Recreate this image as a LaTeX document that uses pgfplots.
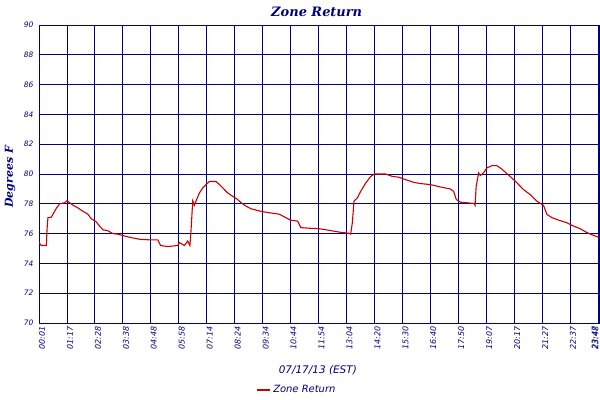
\documentclass[border=0pt]{standalone}
\usepackage{pgfplots}
\pgfplotsset{compat=1.18}
\usepackage{fontspec}
\setmainfont{DejaVu Sans}
\newfontfamily\dvserif{DejaVu Serif}
\definecolor{navy}{HTML}{000080}
\definecolor{linered}{HTML}{CC0000}
\begin{document}
\begin{tikzpicture}
\begin{axis}[
  scale only axis,
  width=561bp, height=298bp,
  xmin=0, xmax=20.07, ymin=70, ymax=90,
  xtick={0,...,20},
  xticklabels={00:01,01:17,02:28,03:38,04:48,05:58,07:14,08:24,09:34,10:44,11:54,13:04,14:20,15:30,16:40,17:50,19:07,20:17,21:27,22:37,{}},
  extra x ticks={19.77,19.80},
  extra x tick labels={23:47,23:48},
  extra x tick style={grid=none},
  ytick={70,72,...,90},
  major tick length=0pt,
  grid=major,
  major grid style={navy, line width=0.9bp},
  axis line style={navy, line width=0.9bp},
  /pgf/number format/assume math mode=true,
  x tick label style={rotate=90, anchor=east, font=\itshape\fontsize{8}{9}\selectfont, text=navy, yshift=-3bp},
  y tick label style={font=\itshape\fontsize{7.5}{8}\selectfont, text=navy, xshift=-2bp},
  title={Zone Return},
  title style={font=\dvserif\bfseries\itshape\fontsize{13}{14}\selectfont, text=navy, at={(axis description cs:0.495,1)}, anchor=base, yshift=3bp},
  xlabel={07/17/13 (EST)},
  xlabel style={font=\itshape\fontsize{10.5}{12}\selectfont, text=navy, at={(axis description cs:0.497,0)}, anchor=base, yshift=-50bp},
  ylabel={Degrees F},
  ylabel style={font=\dvserif\bfseries\itshape\fontsize{11}{12}\selectfont, text=navy, at={(axis description cs:-0.0517,0.49)}, anchor=center},
  legend style={draw=none, fill=none, at={(axis description cs:0.46,-0.225)}, anchor=center, font=\itshape\fontsize{10}{12}\selectfont, text=navy, inner sep=0pt},
  legend image code/.code={\draw[#1, line width=1.6bp] (0bp,0bp) -- (13bp,0bp);},
]
\addplot[linered, line width=1.1bp, mark=none] coordinates {
(0,75.4) (0.08,75.2) (0.26,75.2) (0.29,76.35) (0.32,77.07) (0.44,77.1) (0.5,77.3)
(0.62,77.7) (0.68,77.85) (0.74,78.0) (0.92,78.07) (1.0,78.2) (1.1,78.07) (1.22,77.9)
(1.39,77.73) (1.57,77.5) (1.75,77.3) (1.87,77.0) (2.05,76.78) (2.17,76.5) (2.29,76.25)
(2.46,76.2) (2.64,76.0) (2.82,75.96) (3.06,75.84) (3.3,75.73) (3.6,75.62) (3.95,75.58)
(4.25,75.58) (4.35,75.2) (4.6,75.13) (4.96,75.2) (5.02,75.4) (5.2,75.2) (5.32,75.5)
(5.4,75.2) (5.44,76.25) (5.5,78.2) (5.56,77.9) (5.62,78.2) (5.74,78.73) (5.86,79.07)
(5.98,79.3) (6.1,79.5) (6.33,79.5) (6.45,79.3) (6.57,79.07) (6.75,78.73) (6.93,78.5)
(7.1,78.3) (7.23,78.07) (7.4,77.85) (7.58,77.67) (7.82,77.55) (8.0,77.47) (8.24,77.4)
(8.6,77.3) (8.83,77.07) (9.0,76.9) (9.25,76.84) (9.37,76.4) (9.67,76.36) (10.02,76.33)
(10.38,76.22) (10.74,76.1) (11.1,76.02) (11.15,75.96) (11.21,76.73) (11.27,78.18)
(11.39,78.4) (11.51,78.84) (11.69,79.4) (11.87,79.84) (12.0,80.0) (12.4,80.0)
(12.64,79.84) (12.88,79.78) (13.08,79.64) (13.4,79.44) (13.64,79.36) (14.0,79.29)
(14.36,79.13) (14.71,79.0) (14.83,78.84) (14.93,78.29) (15.07,78.11) (15.31,78.07)
(15.57,78.02) (15.6,77.9) (15.64,79.18) (15.73,80.07) (15.79,79.9) (15.9,80.07)
(16.02,80.4) (16.2,80.56) (16.38,80.56) (16.56,80.33) (16.74,80.02) (16.92,79.73)
(17.1,79.4) (17.33,78.96) (17.57,78.62) (17.81,78.18) (18.05,77.89) (18.17,77.29)
(18.35,77.07) (18.58,76.91) (18.88,76.73) (19.12,76.51) (19.36,76.33) (19.6,76.07)
(19.83,75.89) (20.05,75.73)
};
\addlegendentry{Zone Return}
\draw[navy, line width=2bp] (rel axis cs:1,0) -- (rel axis cs:1,1);
\end{axis}
\pgfresetboundingbox
\path (-39bp,-77bp) rectangle (561bp,323bp);
\end{tikzpicture}
\end{document}
